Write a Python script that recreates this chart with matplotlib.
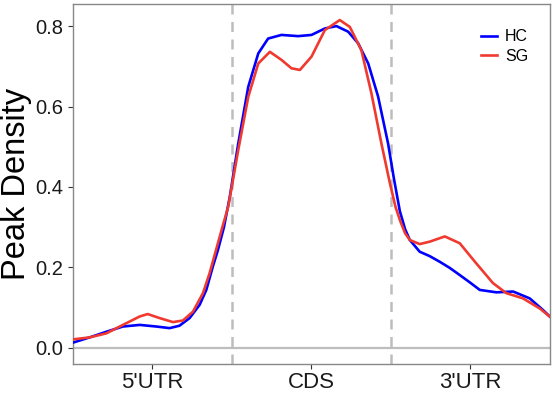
import matplotlib
matplotlib.use("Agg")
import matplotlib.pyplot as plt

plt.rcParams['font.family'] = ['Liberation Sans', 'DejaVu Sans']

regions = ["5'UTR", "CDS", "3'UTR"]
region_pos = [0.5, 1.5, 2.5]
bounds = [1, 2]

# values (x in region units, 0..3)
hc_x = [0.0, 0.105, 0.21, 0.314, 0.42, 0.524, 0.608, 0.67, 0.734, 0.797, 0.839, 0.88,
        0.912, 0.95, 0.987, 1.04, 1.103, 1.166, 1.228, 1.312, 1.417, 1.501, 1.585,
        1.658, 1.732, 1.795, 1.858, 1.92, 1.983, 2.02, 2.057, 2.09, 2.12, 2.182,
        2.245, 2.308, 2.37, 2.434, 2.5, 2.56, 2.665, 2.77, 2.874, 2.958, 3.0]
hc_y = [0.013, 0.026, 0.040, 0.053, 0.057, 0.053, 0.049, 0.055, 0.074, 0.107, 0.144, 0.202,
        0.243, 0.30, 0.376, 0.508, 0.649, 0.732, 0.769, 0.778, 0.775, 0.778, 0.794,
        0.800, 0.786, 0.757, 0.707, 0.625, 0.508, 0.42, 0.34, 0.295, 0.268, 0.239,
        0.228, 0.214, 0.199, 0.181, 0.162, 0.144, 0.138, 0.140, 0.123, 0.094, 0.078]

sg_x = [0.0, 0.105, 0.21, 0.314, 0.42, 0.47, 0.545, 0.629, 0.692, 0.755, 0.818, 0.86,
        0.90, 0.94, 0.977, 1.04, 1.103, 1.166, 1.239, 1.312, 1.375, 1.428, 1.501,
        1.585, 1.679, 1.742, 1.815, 1.878, 1.941, 1.994, 2.03, 2.057, 2.09, 2.12,
        2.182, 2.245, 2.34, 2.434, 2.538, 2.643, 2.727, 2.832, 2.937, 3.0]
sg_y = [0.021, 0.026, 0.036, 0.057, 0.078, 0.084, 0.074, 0.064, 0.068, 0.090, 0.136, 0.186,
        0.243, 0.30, 0.351, 0.492, 0.624, 0.707, 0.736, 0.716, 0.695, 0.691, 0.724,
        0.790, 0.815, 0.798, 0.740, 0.633, 0.508, 0.41, 0.35, 0.318, 0.285, 0.268,
        0.258, 0.264, 0.277, 0.260, 0.210, 0.161, 0.136, 0.123, 0.098, 0.078]

fig = plt.figure(figsize=(5.53, 3.96), dpi=100)
ax = fig.add_axes([0.132, 0.081, 0.862, 0.909])

ax.axhline(0, color='#bdbdbd', lw=1.6, zorder=1)
for b in bounds:
    ax.axvline(b, color='#bdbdbd', lw=1.8, ls=(0, (4, 3)), zorder=1)

ax.plot(hc_x, hc_y, color='#0000ff', lw=1.9, label='HC', zorder=3,
        solid_joinstyle='round')
ax.plot(sg_x, sg_y, color='#f0392f', lw=1.9, label='SG', zorder=4,
        solid_joinstyle='round')

ax.set_xlim(0, 3)
ax.set_ylim(-0.04, 0.855)
ax.set_xticks(region_pos)
ax.set_xticklabels(regions)
ax.set_yticks([0.0, 0.2, 0.4, 0.6, 0.8])
ax.set_yticklabels(['0.0', '0.2', '0.4', '0.6', '0.8'])
ax.tick_params(colors='#333333', labelcolor='#1a1a1a', length=3.5, width=0.8)
ax.tick_params(axis='x', labelsize=16, pad=2)
ax.tick_params(axis='y', labelsize=14.5)
ax.set_ylabel('Peak Density', fontsize=23.5)
ax.yaxis.set_label_coords(-0.086, 0.5)

for s in ax.spines.values():
    s.set_color('#888888')
    s.set_linewidth(1.0)

ax.legend(loc='upper right', frameon=False, fontsize=11.5, handlelength=1.0,
          handletextpad=0.5, labelspacing=0.3, bbox_to_anchor=(0.985, 0.97))

fig.savefig('out.png', dpi=100)
